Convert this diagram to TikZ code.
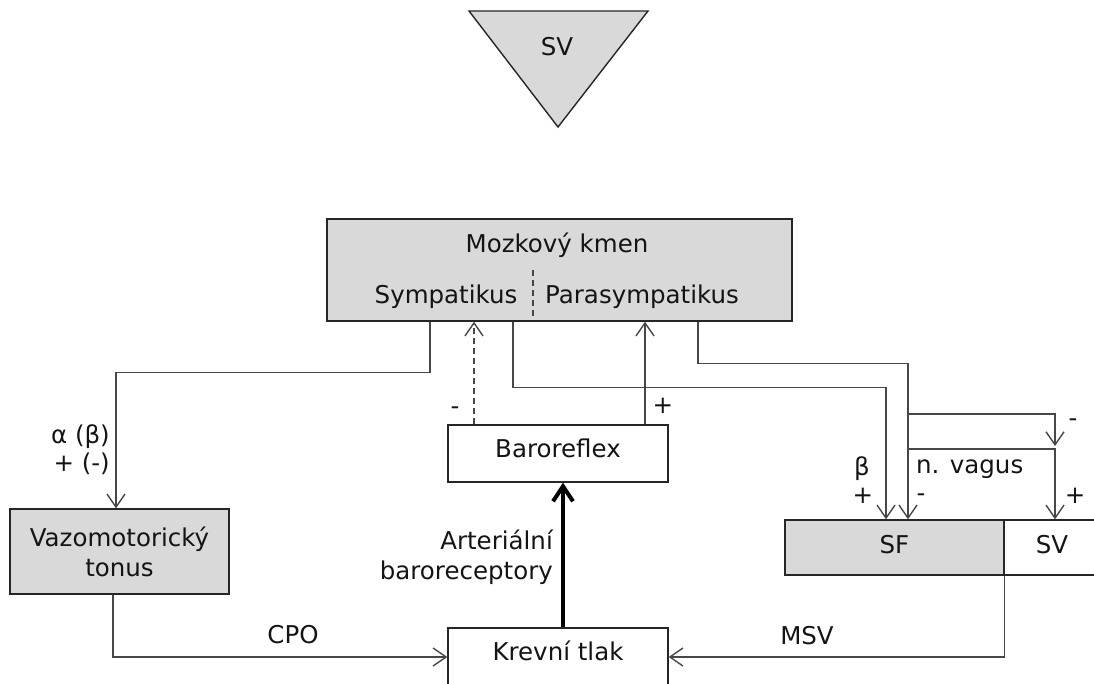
\documentclass[tikz,border=0pt]{standalone}
\usepackage{fontspec}
\setmainfont{DejaVu Sans}
\usetikzlibrary{arrows.meta}
\begin{document}
\begin{tikzpicture}[x=1pt,y=-1pt,
  every node/.style={font=\fontsize{24.5}{30}\selectfont, text=black!92, inner sep=0pt},
  box/.style={draw=black!85, line width=1.4pt, fill=gray!30, align=center},
  wbox/.style={box, fill=white},
  tbox/.style={text height=17.5pt, text depth=10pt},
  sbox/.style={text height=17.5pt, text depth=5pt},
  lbl/.style={text height=17.5pt, text depth=0pt},
  minus/.style={},
  conn/.style={draw=black!72, line width=1.4pt},
  arr/.style={conn, -{Straight Barb[length=13pt,width=18pt]}},
  thickarr/.style={draw=black, line width=4pt, -{Straight Barb[length=15pt,width=20pt]}},
  sep/.style={draw=black!72, line width=1.4pt, dash pattern=on 6pt off 4pt},
]
\useasboundingbox (0,0) rectangle (1094,684);
\clip (0,0) rectangle (1094,684);

% top triangle
\draw[box] (469,11) -- (648,11) -- (558,127) -- cycle;
\node[lbl] (svt) at (557,47) {SV};

% brain stem
\node[box, minimum width=465, minimum height=102] (mk) at (559.5,270) {};
\node[lbl] (mkt) at (557,244) {Mozkový kmen};
\node[lbl] (symp) at (446,295) {Sympatikus};
\node[lbl] (para) at (642,295) {Parasympatikus};
\coordinate (sepa) at (533,270);
\coordinate (sepb) at (533,318);
\draw[sep] (sepa) -- (sepb);

% boxes
\node[box, minimum width=219, minimum height=85] (vm) at (119.5,551.5) {Vazomotorický\\tonus};
\node[wbox, tbox, minimum width=220, minimum height=57] (br) at (558,453.5) {Baroreflex};
\node[wbox, tbox, minimum width=220, minimum height=58] (kt) at (558,657) {Krevní tlak};
\node[box, sbox, minimum width=219, minimum height=55] (sf) at (894.5,547.5) {SF};
\node[wbox, sbox, minimum width=96, minimum height=55] (sv) at (1052,547.5) {SV};

% connectors
\draw[arr] ([xshift=-129.5pt]mk.south) -- ++(0,51) -| ([xshift=-3.5pt]vm.north);
\draw[arr, dash pattern=on 6pt off 4pt] ([xshift=-84pt]br.north) -- ([xshift=-84pt]br.north |- mk.south);
\draw[arr] ([xshift=87pt]br.north) -- ([xshift=87pt]br.north |- mk.south);
\draw[thickarr] ([xshift=5pt]kt.north) -- ([xshift=5pt]br.south);
\draw[arr] ([xshift=-6.5pt]vm.south) |- (kt.west);
\draw[arr] (sf.south east) |- (kt.east);
\draw[arr] ([xshift=-46.5pt]mk.south) -- ++(0,66) -| ([xshift=-8.5pt]sf.north);
\draw[arr] ([xshift=138.5pt]mk.south) -- ++(0,42) -| ([xshift=13.5pt]sf.north);
\coordinate (va) at (908,414);
\coordinate (vb) at (1055,446);
\draw[arr] (va) -| (vb);
\coordinate (vc) at (908,449);
\draw[arr] (vc) -| ([xshift=3pt]sv.north);

% labels
\node[lbl, anchor=east] (l1) at (110,435) {α (β)};
\node[lbl, anchor=east] (l2) at (110,463) {+ (-)};
\node[minus] (l3) at (455,411) {-};
\node[lbl] (l4) at (663,405) {+};
\node[align=right, anchor=east] (l5) at (553,557) {Arteriální\\baroreceptory};
\node[lbl] (l6) at (293,635) {CPO};
\node[lbl] (l7) at (807,636) {MSV};
\node[lbl] (l8) at (862,467) {β};
\node[lbl] (l9) at (863,495) {+};
\node[lbl, anchor=west] (l10) at (916,465) {n. vagus};
\node[minus] (l11) at (921,498) {-};
\node[minus] (l12) at (1073,423) {-};
\node[lbl] (l13) at (1075,495) {+};
\end{tikzpicture}
\end{document}
